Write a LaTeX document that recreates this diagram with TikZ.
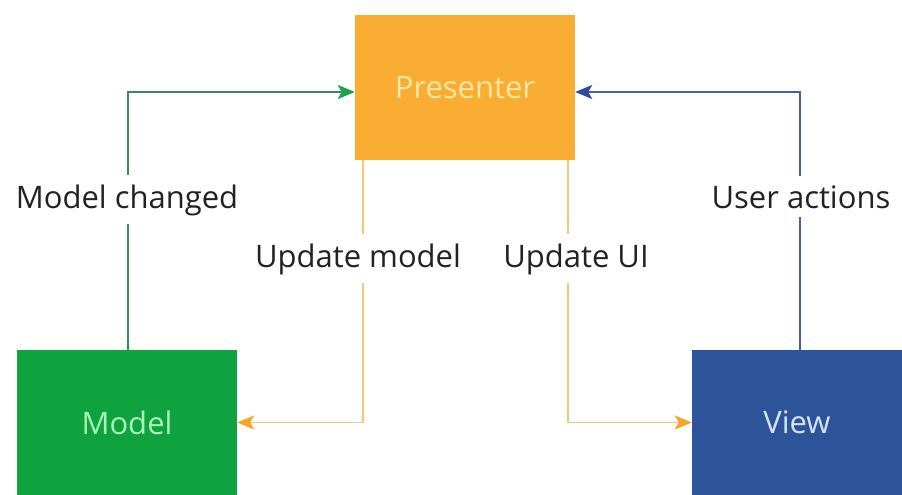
\documentclass[tikz,border=0pt]{standalone}
\usepackage{fontspec}
\setmainfont{Open Sans}
\usetikzlibrary{arrows.meta}

\definecolor{presfill}{HTML}{F9AE33}
\definecolor{prestext}{HTML}{FCE7A6}
\definecolor{modelfill}{HTML}{10A23F}
\definecolor{modeltext}{HTML}{A8F2BC}
\definecolor{viewfill}{HTML}{2D5499}
\definecolor{viewtext}{HTML}{D6E2F6}
\definecolor{greenline}{HTML}{3A8A5C}
\definecolor{greentip}{HTML}{1DA14A}
\definecolor{blueline}{HTML}{4B6290}
\definecolor{bluetip}{HTML}{2B4C9B}
\definecolor{orangeline}{HTML}{F3C679}
\definecolor{orangetip}{HTML}{F5A623}
\definecolor{labeltext}{HTML}{222222}

\tikzset{
  block/.style={rectangle, draw=none, minimum width=220pt, minimum height=145pt,
    inner sep=0pt, font=\fontsize{31}{37}\selectfont},
  flowlabel/.style={fill=white, text=labeltext, inner xsep=2pt, inner ysep=9pt,
    anchor=base, font=\fontsize{31}{37}\selectfont},
  greenflow/.style={draw=greenline, line width=2pt,
    -{Stealth[length=17pt, width=14pt, inset=4pt, color=greentip]}},
  blueflow/.style={draw=blueline, line width=2pt,
    -{Stealth[length=17pt, width=14pt, inset=4pt, color=bluetip]}},
  orangeflow/.style={draw=orangeline, line width=1.6pt,
    -{Stealth[length=17pt, width=14pt, inset=4pt, color=orangetip]}},
}

\begin{document}
\begin{tikzpicture}[x=1pt, y=-1pt]
  \useasboundingbox (0,0) rectangle (902,495);

  % the three components
  \node[block, fill=presfill, text=prestext] (presenter) at (465,87.5) {Presenter};
  \node[block, fill=modelfill, text=modeltext] (model) at (127,422.5) {Model};
  \node[block, fill=viewfill, text=viewtext, minimum width=210pt] (view) at (797,422.5) {View};

  % connectors
  \draw[greenflow] ([xshift=1pt]model.north) |- ([yshift=-4.5pt]presenter.west);
  \draw[blueflow] ([xshift=3pt]view.north) |- ([yshift=-4.5pt]presenter.east);
  \draw[orangeflow] ([xshift=-102pt]presenter.south) |- (model.east);
  \draw[orangeflow] ([xshift=103pt]presenter.south) |- (view.west);

  % connector labels
  \node[flowlabel] (lchanged) at (127,208) {Model changed};
  \node[flowlabel] (lactions) at (801,208) {User actions};
  \node[flowlabel] (lupdmodel) at (358,267) {Update model};
  \node[flowlabel] (lupdui) at (576,267) {Update UI};
\end{tikzpicture}
\end{document}
